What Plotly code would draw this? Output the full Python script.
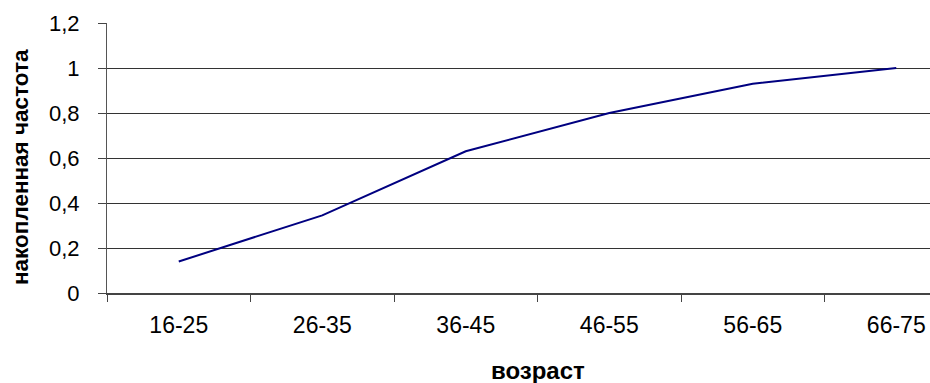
import plotly.graph_objects as go

categories = ["16-25", "26-35", "36-45", "46-55", "56-65", "66-75"]
cum_freq = [0.14, 0.345, 0.63, 0.80, 0.93, 1.0]
y_ticks = [0, 0.2, 0.4, 0.6, 0.8, 1.0, 1.2]
y_tick_text = ["0", "0,2", "0,4", "0,6", "0,8", "1", "1,2"]
x_title = "возраст"
y_title = "накопленная частота"

W, H = 930, 383
L, T, B = 107, 23, 90

fig = go.Figure()
fig.add_trace(go.Scatter(
    x=categories, y=cum_freq, mode="lines",
    line=dict(color="#000080", width=2),
    showlegend=False, hoverinfo="skip",
))

font = "Liberation Sans, Arial, sans-serif"
fig.update_layout(
    width=W, height=H,
    margin=dict(l=L, r=0, t=T, b=B, pad=0),
    paper_bgcolor="white", plot_bgcolor="white",
    font=dict(family=font, size=23, color="#000000"),
    xaxis=dict(
        type="category", range=[-0.5, 5.235],
        showgrid=False, showline=True, linecolor="#444444", linewidth=2,
        ticks="outside", tickson="boundaries", ticklen=7, tickcolor="#444444", tickwidth=1,
        tickfont=dict(size=23), ticklabelstandoff=10,
        zeroline=False,
    ),
    yaxis=dict(
        range=[0, 1.2], tickvals=y_ticks, ticktext=y_tick_text,
        showgrid=True, gridcolor="#333333", gridwidth=1,
        showline=True, linecolor="#555555", linewidth=1,
        ticks="outside", ticklen=8, tickcolor="#444444", tickwidth=1,
        tickfont=dict(size=22), ticklabelstandoff=14,
        zeroline=False,
    ),
    annotations=[
        dict(text="<b>" + x_title + "</b>", xref="paper", yref="paper",
             x=(538 - L) / (W - L), y=-(371 - (H - B)) / (H - T - B),
             xanchor="center", yanchor="middle", showarrow=False,
             font=dict(size=24, family=font)),
        dict(text="<b>" + y_title + "</b>", xref="paper", yref="paper",
             x=-(L - 20) / (W - L), y=1 - (167 - T) / (H - T - B),
             xanchor="center", yanchor="middle", showarrow=False, textangle=-90,
             font=dict(size=22.5, family=font)),
    ],
)

fig.write_html("out.html")
